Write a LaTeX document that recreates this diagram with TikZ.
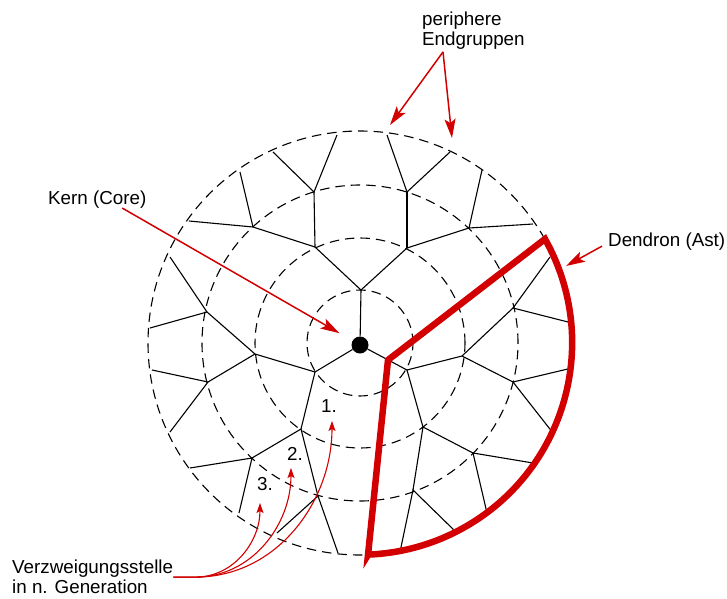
\documentclass[tikz,border=0pt]{standalone}
\usepackage{fontspec}
\setmainfont{Liberation Sans}
\usetikzlibrary{arrows.meta}

\definecolor{astred}{RGB}{210,0,0}
\tikzset{
    ring/.style={dash pattern=on 9.5pt off 6pt, line width=1.1pt},
    branch/.style={line width=1.1pt},
    txt/.style={font=\fontsize{18.8}{20}\selectfont, inner sep=0pt, align=left},
    pointer/.style={astred, line width=1.5pt, -{Stealth[length=19pt, width=11pt, inset=4pt]}},
    hint/.style={astred, line width=1.1pt, -{Stealth[length=10pt, width=7pt, inset=2pt]}},
    dendron/.style={astred, line width=6.5pt},
}

\begin{document}
\begin{tikzpicture}[x=1pt, y=1pt]
    \useasboundingbox (-360,-255) rectangle (367,343);
    \foreach \r in {53,105,158,212} {
        \draw[ring] (0,0) circle[radius=\r];
    }
    \coordinate (a) at (1,53);
    \coordinate (b) at (-45,-29);
    \coordinate (c) at (47,-27);
    \coordinate (aa) at (-45,96);
    \coordinate (ab) at (47,95);
    \coordinate (ba) at (-105,-11);
    \coordinate (bb) at (-59,-86);
    \coordinate (ca) at (102,-13);
    \coordinate (cb) at (63,-84);
    \coordinate (aaa) at (-107,116);
    \coordinate (aab) at (-46,151);
    \coordinate (aba) at (47,151);
    \coordinate (abb) at (109,115);
    \coordinate (baa) at (-153,31);
    \coordinate (bab) at (-152,-39);
    \coordinate (bba) at (-108,-115);
    \coordinate (bbb) at (-42,-153);
    \coordinate (caa) at (153,35);
    \coordinate (cab) at (153,-39);
    \coordinate (cba) at (113,-110);
    \coordinate (cbb) at (53,-147);
    \coordinate (aaa1) at (-171,122);
    \coordinate (aaa2) at (-120,171);
    \coordinate (aab1) at (-87,191);
    \coordinate (aab2) at (-23,208);
    \coordinate (aba1) at (27,208);
    \coordinate (aba2) at (90,191);
    \coordinate (abb1) at (122,173);
    \coordinate (abb2) at (173,119);
    \coordinate (baa1) at (-190,86);
    \coordinate (baa2) at (-210,15);
    \coordinate (bab1) at (-208,-27);
    \coordinate (bab2) at (-190,-89);
    \coordinate (bba1) at (-170,-125);
    \coordinate (bba2) at (-121,-170);
    \coordinate (bbb1) at (-83,-190);
    \coordinate (bbb2) at (-22,-210);
    \coordinate (caa1) at (190,86);
    \coordinate (caa2) at (208,21);
    \coordinate (cab1) at (212,-25);
    \coordinate (cab2) at (193,-90);
    \coordinate (cba1) at (173,-120);
    \coordinate (cba2) at (127,-170);
    \coordinate (cbb1) at (97,-190);
    \coordinate (cbb2) at (40,-209);
    \node[circle, fill, inner sep=0pt, minimum size=17pt] (k) at (0,-2) {};
    \foreach \p/\q in {k/a, k/b, k/c, a/aa, a/ab, b/ba, b/bb, c/ca, c/cb,
        aa/aaa, aa/aab, ab/aba, ab/abb, ba/baa, ba/bab, bb/bba, bb/bbb,
        ca/caa, ca/cab, cb/cba, cb/cbb} {
        \draw[branch] (\p) -- (\q);
    }
    \foreach \p in {aaa,aab,aba,abb,baa,bab,bba,bbb,caa,cab,cba,cbb} {
        \draw[branch] (\p1) -- (\p) -- (\p2);
    }
    \draw[dendron] (8,-212) -- (28,-17) -- (185,104)
        arc[start angle=29.3, end angle=-87.8, radius=212] -- cycle;

    \node[txt, anchor=north west] (pe) at (62,331) {periphere\\Endgruppen};
    \node[txt, anchor=base west] (kern) at (-312,139) {Kern (Core)};
    \node[txt, anchor=base west] (ast) at (248,97) {Dendron (Ast)};
    \node[txt, anchor=north west] (vz) at (-348,-217) {Verzweigungsstelle\\in n. Generation};
    \node[txt, anchor=base west] (n1) at (-39,-69) {1.};
    \node[txt, anchor=base west] (n2) at (-73,-117) {2.};
    \node[txt, anchor=base west] (n3) at (-103,-147) {3.};

    \coordinate (eg1) at (30,218);
    \coordinate (eg2) at (92,205);
    \coordinate (dt) at (206,77);
    \coordinate (t1) at (-28,-78);
    \coordinate (t2) at (-69,-125);
    \coordinate (t3) at (-100,-160);
    \draw[pointer] ([shift={(21pt,-2pt)}]pe.south west) -- (eg1);
    \draw[pointer] ([shift={(21pt,-2pt)}]pe.south west) -- (eg2);
    \draw[pointer, shorten >=15pt] ([xshift=25pt]kern.south) -- (k);
    \draw[pointer] ([shift={(-6pt,-5pt)}]ast.west) -- (dt);
    \foreach \t in {t1,t2,t3} {
        \draw[hint] (vz.east) -- ++(22,0) to[out=0, in=-90] (\t);
    }
\end{tikzpicture}
\end{document}
